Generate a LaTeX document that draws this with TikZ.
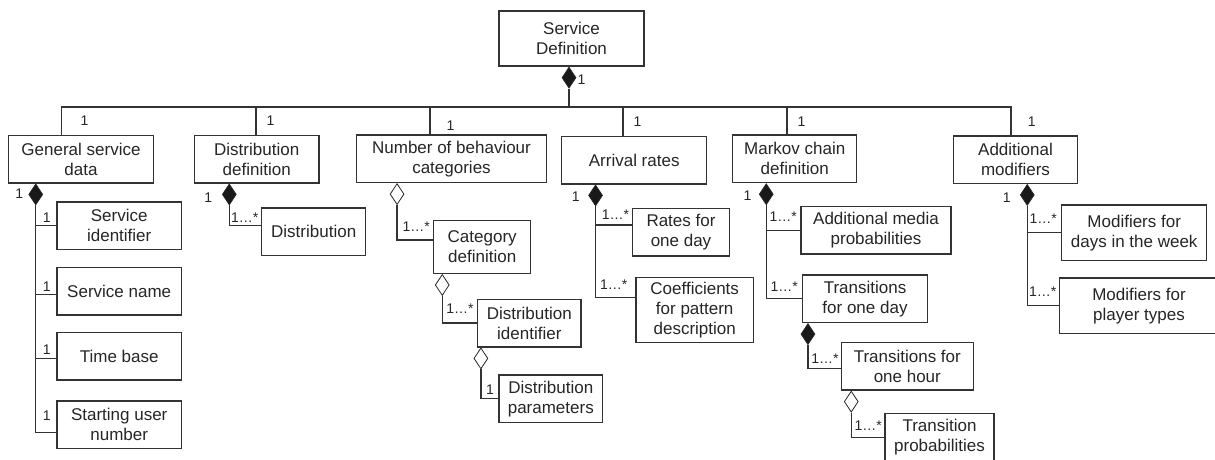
\documentclass[tikz,border=0pt]{standalone}
\usepackage{fontspec}
\setmainfont{Liberation Sans}
\usepackage{xcolor}
\usepackage{tikz}
\usetikzlibrary{shapes.geometric, positioning, calc}
\tikzset{
    cls/.style={rectangle, draw=black!80, line width=1.5pt, fill=white,
                align=center, inner sep=2pt, minimum height=47.5pt,
                text=black!85, font=\fontsize{17}{20}\selectfont},
    comp/.style={diamond, draw=black!85, fill=black!90, line width=0.8pt,
                 inner sep=0pt, minimum width=14pt, minimum height=21pt,
                 anchor=north},
    aggr/.style={comp, fill=white},
    mult/.style={inner sep=0pt, text=black!85,
                 font=\fontsize{14}{16}\selectfont},
    link/.style={draw=black!80, line width=1.3pt}
}

\begin{document}
\begin{tikzpicture}[x=1pt, y=-1pt]
\useasboundingbox (0,0) rectangle (1215,459);
\clip (0,0) rectangle (1215,459);

% ── Root ──────────────────────────────────────────────────────────────
\node[cls, minimum width=145pt, minimum height=55pt] at (571.5,38.5) (sd) {Service\\Definition};
\node[comp] at ([xshift=-2.5pt]sd.south) (sd-c) {};

% ── First level ───────────────────────────────────────────────────────
\node[cls, minimum width=145.4pt] at (81,159)      (gsd)  {General service\\data};
\node[cls, minimum width=124.7pt] at (256.7,159)   (ddef) {Distribution\\definition};
\node[cls, minimum width=190.4pt] at (451.5,158.7) (nbc)  {Number of behaviour\\categories};
\node[cls, minimum width=145pt]   at (634.2,160)   (arr)  {Arrival rates};
\node[cls, minimum width=124pt]   at (794.7,158.8) (mcd)  {Markov chain\\definition};
\node[cls, minimum width=124.4pt] at (1015.5,159.5) (adm) {Additional\\modifiers};

% ── General service data ──────────────────────────────────────────────
\node[cls, minimum width=124.3pt] at (119.2,225.8) (sid)   {Service\\identifier};
\node[cls, minimum width=124.3pt] at (119.2,291.2) (sname) {Service name};
\node[cls, minimum width=124.3pt] at (119.2,356)   (tbase) {Time base};
\node[cls, minimum width=124.3pt] at (119.2,424.8) (sun)   {Starting user\\number};

% ── Distributions and categories ──────────────────────────────────────
\node[cls, minimum width=104pt]   at (313.7,231.8) (dist) {Distribution};
\node[cls, minimum width=97pt, minimum height=52.6pt] at (482.2,247) (catdef) {Category\\definition};
\node[cls, minimum width=103.3pt] at (529.3,323)   (distid)  {Distribution\\identifier};
\node[cls, minimum width=103.7pt] at (550.8,398.7) (distpar) {Distribution\\parameters};

% ── Arrival rates ─────────────────────────────────────────────────────
\node[cls, minimum width=96.6pt]  at (681,232)     (rday) {Rates for\\one day};
\node[cls, minimum width=117.3pt, minimum height=65pt] at (694.7,309.8) (coef) {Coefficients\\for pattern\\description};

% ── Markov chain ──────────────────────────────────────────────────────
\node[cls, minimum width=150pt]   at (876,230.3)   (amp)   {Additional media\\probabilities};
\node[cls, minimum width=124.6pt] at (865,298.7)   (tday)  {Transitions\\for one day};
\node[cls, minimum width=132pt]   at (907.3,366.2) (thour) {Transitions for\\one hour};
\node[cls, minimum width=109pt]   at (939.5,437.3) (tprob) {Transition\\probabilities};

% ── Modifiers ─────────────────────────────────────────────────────────
\node[cls, minimum width=145pt, minimum height=55.7pt]   at (1134.2,232.8) (mdays) {Modifiers for\\days in the week};
\node[cls, minimum width=159.4pt, minimum height=55.3pt] at (1139,305.7)   (mplay) {Modifiers for\\player types};

% ── Diamonds ──────────────────────────────────────────────────────────
\node[comp] at ([xshift=28.2pt]gsd.south west)    (gsd-c)    {};
\node[comp] at ([xshift=35.7pt]ddef.south west)   (ddef-c)   {};
\node[aggr] at ([xshift=41.5pt]nbc.south west)    (nbc-c)    {};
\node[comp] at ([xshift=34.6pt]arr.south west)    (arr-c)    {};
\node[comp] at ([xshift=34.3pt]mcd.south west)    (mcd-c)    {};
\node[comp] at ([xshift=74.7pt]adm.south west)    (adm-c)    {};
\node[aggr] at ([xshift=9.3pt]catdef.south west)  (catdef-c) {};
\node[aggr] at ([xshift=4pt]distid.south west)    (distid-c) {};
\node[comp] at ([xshift=6pt]tday.south west)      (tday-c)   {};
\node[aggr] at ([xshift=10.7pt]thour.south west)  (thour-c)  {};

% ── Bus ───────────────────────────────────────────────────────────────
\coordinate (bus) at (0,107);
\coordinate (gsd-t)  at ([xshift=53.7pt]gsd.north west);
\coordinate (ddef-t) at ([xshift=62.4pt]ddef.north west);
\coordinate (nbc-t)  at ([xshift=74.4pt]nbc.north west);
\coordinate (arr-t)  at ([xshift=62pt]arr.north west);
\coordinate (mcd-t)  at ([xshift=55pt]mcd.north west);
\coordinate (adm-t)  at ([xshift=58.4pt]adm.north west);

\draw[link] (sd-c.south) -- (sd-c.south |- bus);
\draw[link] (gsd-t) |- (bus -| adm-t) -- (adm-t);
\draw[link] (ddef-t) -- (ddef-t |- bus);
\draw[link] (nbc-t)  -- (nbc-t |- bus);
\draw[link] (arr-t)  -- (arr-t |- bus);
\draw[link] (mcd-t)  -- (mcd-t |- bus);

% ── Connectors ────────────────────────────────────────────────────────
\draw[link] (gsd-c.south) |- (sid.west);
\draw[link] (gsd-c.south) |- ([yshift=-3pt]sname.west);
\draw[link] (gsd-c.south) |- ([yshift=-2.7pt]tbase.west);
\draw[link] (gsd-c.south) |- ([yshift=-7.5pt]sun.west);

\draw[link] (ddef-c.south) |- ([yshift=6.5pt]dist.west);

\draw[link] (nbc-c.south)    |- ([yshift=7pt]catdef.west);
\draw[link] (catdef-c.south) |- (distid.west);
\draw[link] (distid-c.south) |- (distpar.west);

\draw[link] (arr-c.south) |- ([yshift=7pt]rday.west);
\draw[link] (arr-c.south) |- ([yshift=12.5pt]coef.west);

\draw[link] (mcd-c.south)   |- (amp.west);
\draw[link] (mcd-c.south)   |- (tday.west);
\draw[link] (tday-c.south)  |- ([yshift=-2pt]thour.west);
\draw[link] (thour-c.south) |- (tprob.west);

\draw[link] (adm-c.south) |- (mdays.west);
\draw[link] (adm-c.south) |- (mplay.west);

% ── Multiplicities ────────────────────────────────────────────────────
\node[mult] at (581.5,79.5) (m-sd)   {1};
\node[mult] at (84.5,121)   (m-gsd)  {1};
\node[mult] at (270.5,121)  (m-ddef) {1};
\node[mult] at (450.5,126)  (m-nbc)  {1};
\node[mult] at (637.5,121.3) (m-arr) {1};
\node[mult] at (801.5,121.3) (m-mcd) {1};
\node[mult] at (1031.8,122) (m-adm)  {1};

\node[mult] at (19.2,194)   (c-gsd)  {1};
\node[mult] at (208.2,197.5) (c-ddef) {1};
\node[mult] at (575.8,197)  (c-arr)  {1};
\node[mult] at (747.5,195.5) (c-mcd) {1};
\node[mult] at (1006.8,198) (c-adm)  {1};

\node[mult] at (46.8,218)   (m-sid)   {1};
\node[mult] at (46.8,287)   (m-sname) {1};
\node[mult] at (46.8,349.7) (m-tbase) {1};
\node[mult] at (46.8,416)   (m-sun)   {1};
\node[mult] at (244.7,218)  (m-dist)    {1…*};
\node[mult] at (416.3,226.7) (m-catdef) {1…*};
\node[mult] at (460,308.7)  (m-distid)  {1…*};
\node[mult] at (490,389.7)  (m-distpar) {1};
\node[mult] at (615.5,215)  (m-rday)  {1…*};
\node[mult] at (613.8,285)  (m-coef)  {1…*};
\node[mult] at (783.3,216.7) (m-amp)  {1…*};
\node[mult] at (784.2,286.7) (m-tday) {1…*};
\node[mult] at (825,359)    (m-thour) {1…*};
\node[mult] at (868.3,426)  (m-tprob) {1…*};
\node[mult] at (1043.3,218.7) (m-mdays) {1…*};
\node[mult] at (1042.8,292) (m-mplay) {1…*};
\end{tikzpicture}
\end{document}
